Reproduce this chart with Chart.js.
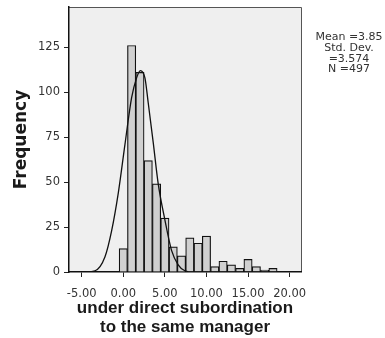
<!DOCTYPE html>
<html>
<head>
<meta charset="utf-8">
<script src="https://cdn.jsdelivr.net/npm/chart.js@4"></script>
<style>
  html, body { margin: 0; padding: 0; background: #fff; }
</style>
</head>
<body>
<canvas id="myChart" width="385" height="338"></canvas>
<script>
// histogram bins (centre of each 1-unit bin) and their counts
const binCenters = [0, 1, 2, 3, 4, 5, 6, 7, 8, 9, 10, 11, 12, 13, 14, 15, 16, 17, 18];
const frequencies = [13, 126, 111, 62, 49, 30, 14, 9, 19, 16, 20, 3, 6, 4, 2, 7, 3, 1, 2];

// fitted normal curve, read point by point
const curveX = [-6.53, -4.5, -3.4, -2.2, -1.4, -0.6, 0.2, 1.0, 1.6, 2.05, 2.6, 3.0, 3.6, 4.2, 5.0, 5.8, 6.6, 7.4, 8.5, 21.37];
const curveY = [0, 0.1, 0.7, 8.5, 23, 44, 71, 97, 108, 112, 108, 94, 72, 49, 29, 12, 4, 0.7, 0, 0];

// axis ticks
const xTickValues = [-5, 0, 5, 10, 15, 20];
const yTickValues = [0, 25, 50, 75, 100, 125];

// summary box on the right
const statsLines = ['Mean =3.85', 'Std. Dev.', '=3.574', 'N =497'];

Chart.defaults.font.family = "'DejaVu Sans', sans-serif";

const barPoints = binCenters.map((x, i) => ({x: x, y: frequencies[i]}));
const curvePoints = curveX.map((x, i) => ({x: x, y: curveY[i]}));

// grey plot background, thin top/right frame, stats text
const plotFrame = {
  id: 'plotFrame',
  beforeDraw(chart) {
    const {ctx, chartArea: a} = chart;
    ctx.save();
    ctx.fillStyle = '#ffffff';
    ctx.fillRect(0, 0, chart.width, chart.height);
    ctx.fillStyle = '#efefef';
    ctx.fillRect(a.left, a.top, a.right - a.left, a.bottom - a.top);
    ctx.strokeStyle = '#555';
    ctx.lineWidth = 1;
    ctx.beginPath();
    ctx.moveTo(a.left, a.top + 0.5);
    ctx.lineTo(a.right + 0.5, a.top + 0.5);
    ctx.lineTo(a.right + 0.5, a.bottom);
    ctx.stroke();
    ctx.restore();
  },
  afterDraw(chart) {
    const ctx = chart.ctx;
    ctx.save();
    ctx.fillStyle = '#333';
    ctx.font = "11px 'DejaVu Sans'";
    ctx.textAlign = 'center';
    ctx.textBaseline = 'middle';
    for (let i = 0; i < statsLines.length; i++) {
      ctx.fillText(statsLines[i], 349, 37.5 + i * 10.6);
    }
    ctx.restore();
  }
};

const config = {
  type: 'bar',
  data: {
    datasets: [
      {
        type: 'line',
        data: curvePoints,
        borderColor: '#111',
        borderWidth: 1.3,
        pointRadius: 0,
        fill: false,
        cubicInterpolationMode: 'monotone',
        order: 0
      },
      {
        type: 'bar',
        data: barPoints,
        backgroundColor: '#d0d0d0',
        borderColor: '#111',
        borderWidth: 1.2,
        barPercentage: 1,
        categoryPercentage: 1,
        order: 1
      }
    ]
  },
  options: {
    responsive: false,
    animation: false,
    devicePixelRatio: 1,
    layout: {padding: {top: 7, right: 84, left: 0, bottom: 0}},
    plugins: {
      legend: {display: false},
      tooltip: {enabled: false}
    },
    scales: {
      x: {
        type: 'linear',
        min: -6.53,
        max: 21.37,
        offset: false,
        afterBuildTicks: (scale) => { scale.ticks = xTickValues.map(v => ({value: v})); },
        afterFit: (scale) => {
          scale.height = 66;
          scale.paddingLeft = 0;
          scale.paddingRight = 0;
        },
        border: {color: '#111', width: 1.5},
        grid: {drawOnChartArea: false, offset: false, tickLength: 5, tickColor: '#222', tickWidth: 1},
        ticks: {
          color: '#333',
          font: {size: 11.5},
          padding: 10,
          maxRotation: 0,
          callback: (v) => v.toFixed(2)
        },
        title: {
          display: true,
          text: ['under direct subordination', 'to the same manager'],
          color: '#1a1a1a',
          font: {family: "'Liberation Sans', Arial, sans-serif", size: 17, weight: 'bold', lineHeight: 1.12},
          padding: {top: 0, bottom: 1}
        }
      },
      y: {
        min: 0,
        max: 147.4,
        afterBuildTicks: (scale) => { scale.ticks = yTickValues.map(v => ({value: v})); },
        afterFit: (scale) => {
          scale.width = 69;
          scale.paddingTop = 0;
          scale.paddingBottom = 0;
        },
        border: {color: '#111', width: 1.5},
        grid: {drawOnChartArea: false, tickLength: 5, tickColor: '#222', tickWidth: 1},
        ticks: {color: '#333', font: {size: 11.5}, padding: 4},
        title: {
          display: true,
          text: 'Frequency',
          color: '#1a1a1a',
          font: {size: 17, weight: 'bold'},
          padding: {top: 11, bottom: 0}
        }
      }
    }
  },
  plugins: [plotFrame]
};

const myChart = new Chart(document.getElementById('myChart'), config);
</script>
</body>
</html>
